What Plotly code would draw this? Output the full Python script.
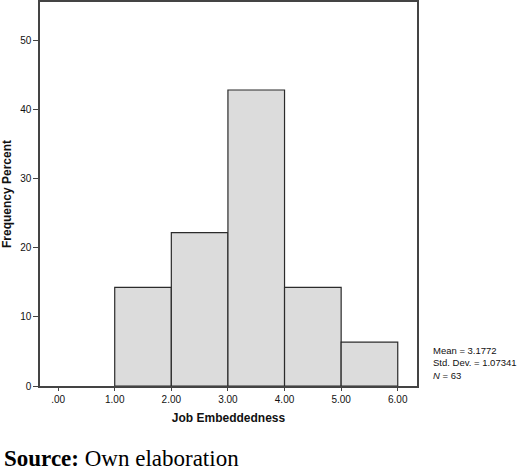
import plotly.graph_objs as go

# histograma de Job Embeddedness (porcentaje por intervalo)
bin_inicio = [1, 2, 3, 4, 5]
bin_fin = [2, 3, 4, 5, 6]
porcentaje = [14.29, 22.22, 42.86, 14.29, 6.35]

tick_x = [0, 1, 2, 3, 4, 5, 6]
tick_x_txt = ['.00', '1.00', '2.00', '3.00', '4.00', '5.00', '6.00']
tick_y = [0, 10, 20, 30, 40, 50]

stats_txt = ['Mean = 3.1772', 'Std. Dev. = 1.07341', '<i>N</i> = 63']

centros = [(a + b) / 2 for a, b in zip(bin_inicio, bin_fin)]
anchos = [b - a for a, b in zip(bin_inicio, bin_fin)]

data = go.Bar(x=centros, y=porcentaje, width=anchos,
              marker=dict(color='#dcdcdc', line=dict(color='#2b2b2b', width=1.2)),
              hoverinfo='skip')

# area del grafico: x 40..417, y 2..386 (pixeles)
Layout = go.Layout(
    width=520, height=474,
    margin=dict(l=40, r=103, t=2, b=88, autoexpand=False),
    paper_bgcolor='white', plot_bgcolor='white',
    font=dict(family='Liberation Sans, Arial', size=10, color='#111'),
    showlegend=False,
    xaxis=dict(range=[-0.32, 6.34], tickvals=tick_x, ticktext=tick_x_txt, automargin=False,
               showline=True, mirror=True, linecolor='#444', linewidth=1.5,
               ticks='outside', ticklen=3, tickcolor='#444', showgrid=False, zeroline=False,
               title=dict(text='<b>Job Embeddedness</b>', font=dict(size=12), standoff=10)),
    yaxis=dict(range=[0, 55.6], tickvals=tick_y, automargin=False,
               showline=True, mirror=True, linecolor='#444', linewidth=1.5,
               ticks='outside', ticklen=5, tickcolor='#444', showgrid=False, zeroline=False,
               title=dict(text='<b>Frequency Percent</b>', font=dict(size=12), standoff=6)),
)

fig = go.Figure(data, Layout)

fig.add_annotation(text='<br>'.join(stats_txt), xref='paper', yref='paper',
                   x=15 / 377, y=(386 - 363) / 384, xanchor='left', yanchor='middle', align='left',
                   showarrow=False, font=dict(size=9.5), xshift=376)
fig.add_annotation(text='<b>Source:</b> Own elaboration', xref='paper', yref='paper',
                   x=0, xshift=-37, y=(386 - 445) / 384, xanchor='left', yanchor='top',
                   showarrow=False, borderpad=0,
                   font=dict(family='Liberation Serif, Times New Roman', size=23, color='black'))

# quitar el margen del body para que la figura quede en 0,0
fig.write_html("out.html", config={'displayModeBar': False},
               post_script="document.body.style.margin='0';")
